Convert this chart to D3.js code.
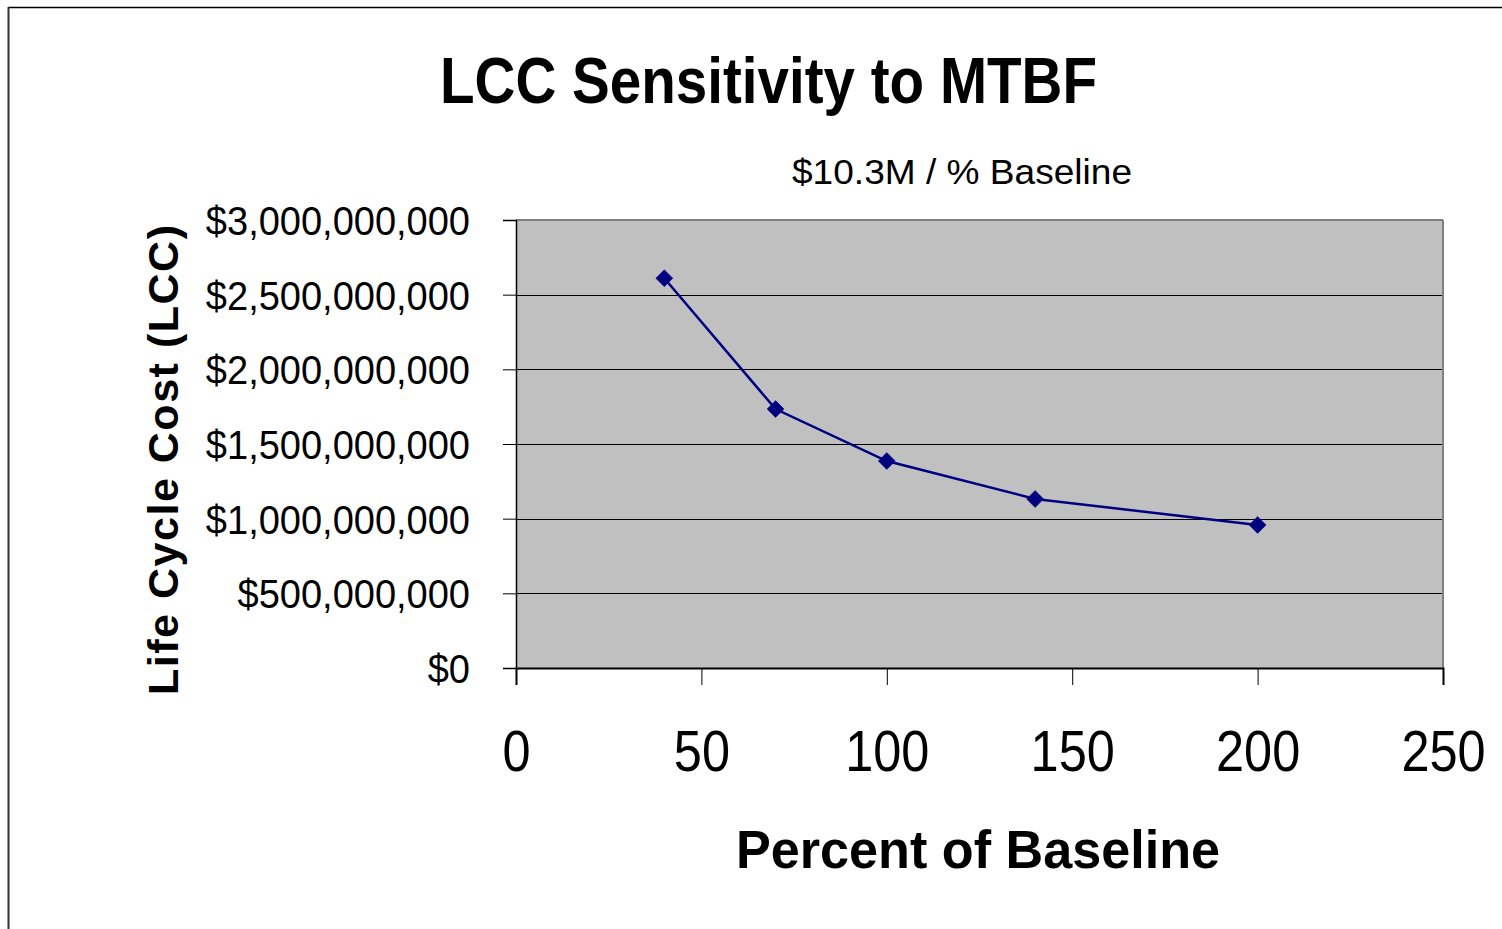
<!DOCTYPE html>
<html>
<head>
<meta charset="utf-8">
<script src="https://cdn.jsdelivr.net/npm/d3@7"></script>
<style>
  html, body { margin: 0; padding: 0; background: #fff; }
  svg { display: block; }
  text { font-family: "Liberation Sans", Arial, sans-serif; }
</style>
</head>
<body>
<svg id="chart" width="1502" height="929"></svg>
<script>
const titleText = "LCC Sensitivity to MTBF";
const subtitleText = "$10.3M / % Baseline";
const xTitle = "Percent of Baseline";
const yTitle = "Life Cycle Cost (LCC)";

const percentBaseline = [40, 70, 100, 140, 200];
const lifeCycleCost = [2610000000, 1734000000, 1386000000, 1132000000, 958000000];

const xTicks = [0, 50, 100, 150, 200, 250];
const yTicks = [0, 500000000, 1000000000, 1500000000, 2000000000, 2500000000, 3000000000];

const svg = d3.select("#chart");
const plot = { left: 516, right: 1443, top: 220, bottom: 668 };

const x = d3.scaleLinear().domain([0, 250]).range([plot.left, plot.right]);
const y = d3.scaleLinear().domain([0, 3000000000]).range([plot.bottom, plot.top]);

// outer frame
svg.append("line").attr("x1", 8).attr("x2", 1502).attr("y1", 7.5).attr("y2", 7.5)
  .attr("stroke", "#000").attr("stroke-width", 1.5);
svg.append("line").attr("x1", 8.5).attr("x2", 8.5).attr("y1", 7).attr("y2", 929)
  .attr("stroke", "#333").attr("stroke-width", 2);

// plot background
svg.append("rect").attr("x", plot.left).attr("y", plot.top)
  .attr("width", plot.right - plot.left).attr("height", plot.bottom - plot.top)
  .attr("fill", "#c0c0c0");

// gridlines
svg.append("g").selectAll("line").data(yTicks.filter(d => d > 0 && d < 3000000000)).join("line")
  .attr("x1", plot.left).attr("x2", plot.right)
  .attr("y1", d => Math.round(y(d)) + 0.5).attr("y2", d => Math.round(y(d)) + 0.5)
  .attr("stroke", "#000").attr("stroke-width", 1);

// plot border top/right gray
svg.append("line").attr("x1", plot.left).attr("x2", plot.right).attr("y1", plot.top).attr("y2", plot.top)
  .attr("stroke", "#808080").attr("stroke-width", 2);
svg.append("line").attr("x1", plot.right).attr("x2", plot.right).attr("y1", plot.top).attr("y2", plot.bottom)
  .attr("stroke", "#808080").attr("stroke-width", 2);

function condense(sel, factor) {
  sel.each(function() {
    const w = this.getComputedTextLength();
    d3.select(this).attr("textLength", w * factor).attr("lengthAdjust", "spacingAndGlyphs");
  });
}

// Y axis
const yAxis = d3.axisLeft(y).tickValues(yTicks).tickSize(13).tickPadding(33)
  .tickFormat(d => "$" + d3.format(",")(d));
const yg = svg.append("g").attr("transform", `translate(${plot.left},0)`).call(yAxis);
yg.select(".domain").attr("stroke", "#000").attr("stroke-width", 1.5);
yg.selectAll(".tick line").attr("stroke", "#000").attr("stroke-width", 1);
yg.selectAll(".tick text").attr("font-size", 40).attr("fill", "#000")
  .attr("font-family", "Liberation Sans, Arial, sans-serif").attr("dy", "0.36em");
condense(yg.selectAll(".tick text"), 0.95);

// X axis
const xAxis = d3.axisBottom(x).tickValues(xTicks).tickSize(17).tickPadding(45);
const xg = svg.append("g").attr("transform", `translate(0,${plot.bottom})`).call(xAxis);
xg.select(".domain").attr("stroke", "#000").attr("stroke-width", 2);
xg.selectAll(".tick line").attr("stroke", "#000").attr("stroke-width", 1);
xg.selectAll(".tick text").attr("font-size", 58).attr("fill", "#000")
  .attr("font-family", "Liberation Sans, Arial, sans-serif").attr("dy", "0.71em");
condense(xg.selectAll(".tick text"), 0.87);

// line
const line = d3.line().x((d, i) => x(percentBaseline[i])).y(d => y(d));
svg.append("path").datum(lifeCycleCost).attr("d", line)
  .attr("fill", "none").attr("stroke", "#000080").attr("stroke-width", 2.5);

// markers (diamonds, half-diagonal 8.5)
const r = 8.5;
const diamond = `M0,${-r}L${r},0L0,${r}L${-r},0Z`;
svg.append("g").selectAll("path").data(lifeCycleCost).join("path")
  .attr("d", diamond)
  .attr("transform", (d, i) => `translate(${x(percentBaseline[i])},${y(d)})`)
  .attr("fill", "#000080").attr("stroke", "#000080").attr("stroke-width", 0.5);

// titles
svg.append("text").attr("x", 768.5).attr("y", 103).attr("text-anchor", "middle")
  .attr("font-size", 64).attr("font-weight", "bold").attr("fill", "#000").text(titleText)
  .attr("textLength", 657).attr("lengthAdjust", "spacingAndGlyphs");

svg.append("text").attr("x", 962).attr("y", 184).attr("text-anchor", "middle")
  .attr("font-size", 35).attr("fill", "#000").text(subtitleText)
  .attr("textLength", 340).attr("lengthAdjust", "spacingAndGlyphs");

svg.append("text").attr("x", 978).attr("y", 868).attr("text-anchor", "middle")
  .attr("font-size", 53).attr("font-weight", "bold").attr("fill", "#000").text(xTitle)
  .attr("textLength", 484).attr("lengthAdjust", "spacingAndGlyphs");

svg.append("text").attr("transform", "translate(178,460) rotate(-90)").attr("text-anchor", "middle")
  .attr("font-size", 43).attr("font-weight", "bold").attr("fill", "#000").text(yTitle)
  .attr("textLength", 470).attr("lengthAdjust", "spacing");
</script>
</body>
</html>
